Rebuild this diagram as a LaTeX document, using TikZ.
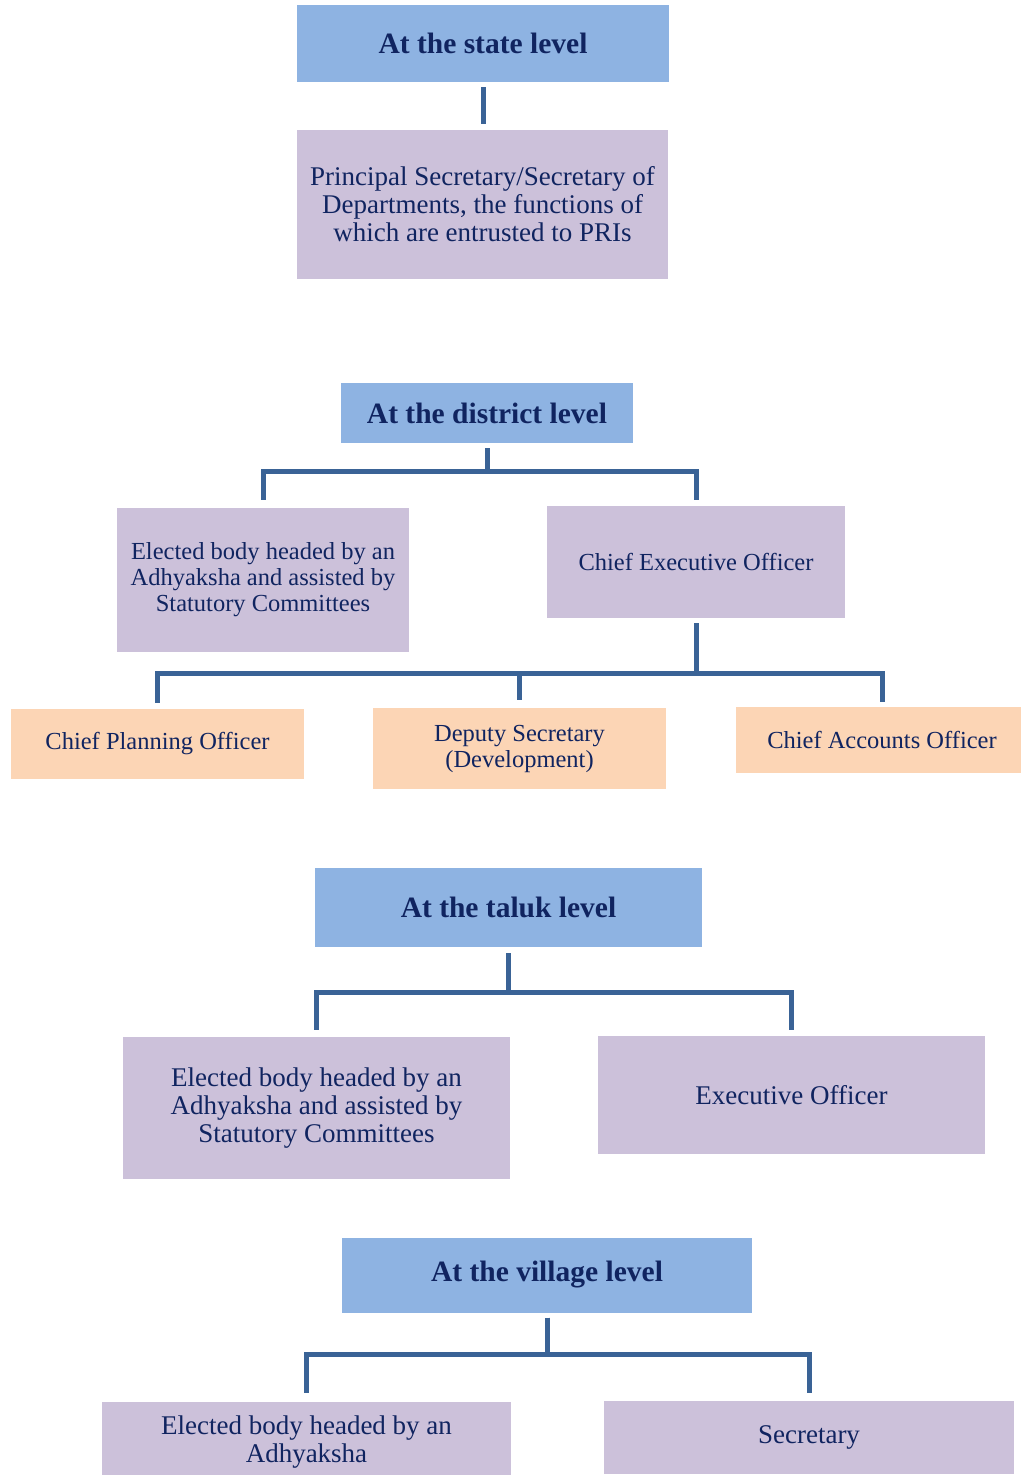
\documentclass[tikz,border=0pt]{standalone}
\usepackage{fontspec}
\setmainfont{Liberation Serif}
\usetikzlibrary{positioning, calc}
\definecolor{HeadBlue}{RGB}{142, 179, 226}
\definecolor{RoleLilac}{RGB}{204, 193, 218}
\definecolor{OffPeach}{RGB}{252, 213, 181}
\definecolor{InkNavy}{RGB}{16, 36, 96}
\definecolor{LinkBlue}{RGB}{58, 99, 150}

\begin{document}
\begin{tikzpicture}[x=1pt, y=-1pt,
          head/.style={fill=HeadBlue, text=InkNavy, inner sep=0pt,
                       align=center, font=\fontsize{29.5}{32}\selectfont\bfseries},
          role/.style={fill=RoleLilac, text=InkNavy, inner sep=0pt,
                       align=center, font=\fontsize{27}{28}\selectfont},
          small/.style={font=\fontsize{24.5}{26}\selectfont},
          post/.style={fill=OffPeach, text=InkNavy, inner sep=0pt,
                       align=center, font=\fontsize{24.5}{26}\selectfont},
          link/.style={draw=LinkBlue, line width=5pt}
        ]
        \useasboundingbox (0,0) rectangle (1022,1475);

        % state level
        \node[head, minimum width=372pt, minimum height=77pt] (shead) at (483,43.5) {At the state level};
        \node[role, minimum width=371pt, minimum height=149pt] (psec) at (482.5,204.5)
              {Principal Secretary/Secretary of\\Departments, the functions of\\which are entrusted to PRIs};
        \draw[link] ([yshift=-5pt]shead.south) -- ([yshift=6pt]shead.south |- psec.north);

        % district level
        \node[head, minimum width=292pt, minimum height=60pt] (dhead) at (487,413) {At the district level};
        \node[role, small, minimum width=292pt, minimum height=144pt] (delect) at (263,580)
              {Elected body headed by an\\Adhyaksha and assisted by\\Statutory Committees};
        \node[role, small, minimum width=298pt, minimum height=112pt] (ceo) at (696,562) {Chief Executive Officer};
        \draw[link] ([yshift=-5pt]dhead.south) -- ++(0,-23pt) -| ([yshift=8pt]delect.north);
        \draw[link] ([yshift=-5pt]dhead.south) -- ++(0,-23pt) -| ([yshift=6pt]ceo.north);

        \node[post, minimum width=293pt, minimum height=70pt] (cpo) at (157.5,744) {Chief Planning Officer};
        \node[post, minimum width=293pt, minimum height=81pt] (dsec) at (519.5,748.5) {Deputy Secretary\\(Development)};
        \node[post, minimum width=285pt, minimum height=66pt] (cao) at (878.5,740) {\hspace*{7pt}Chief Accounts Officer};
        \draw[link] ([yshift=-5pt]ceo.south) -- ++(0,-50pt) -| ([yshift=6pt]cpo.north);
        \draw[link] ([yshift=-5pt]ceo.south) -- ++(0,-50pt) -| ([yshift=8pt]dsec.north);
        \draw[link] ([yshift=-5pt]ceo.south) -- ++(0,-50pt) -| ([xshift=4pt,yshift=5pt]cao.north);

        % taluk level
        \node[head, minimum width=387pt, minimum height=79pt] (thead) at (508.5,907.5) {At the taluk level};
        \node[role, minimum width=387pt, minimum height=142pt] (telect) at (316.5,1108)
              {Elected body headed by an\\Adhyaksha and assisted by\\Statutory Committees};
        \node[role, minimum width=387pt, minimum height=118pt] (eo) at (791.5,1095) {Executive Officer};
        \draw[link] ([yshift=-6pt]thead.south) -- ++(0,-39pt) -| ([yshift=7pt]telect.north);
        \draw[link] ([yshift=-6pt]thead.south) -- ++(0,-39pt) -| ([yshift=6pt]eo.north);

        % village level
        \node[head, minimum width=410pt, minimum height=75pt] (vhead) at (547,1275) {At the village level};
        \node[role, minimum width=409pt, minimum height=80pt] (velect) at (306.5,1442)
              {Elected body headed by an\\Adhyaksha};
        \node[role, minimum width=410pt, minimum height=73pt] (secy) at (809,1437.5) {Secretary};
        \draw[link] ([yshift=-5pt]vhead.south) -- ++(0,-37pt) -| ([yshift=9pt]velect.north);
        \draw[link] ([yshift=-5pt]vhead.south) -- ++(0,-37pt) -| ([yshift=8pt]secy.north);
      \end{tikzpicture}
\end{document}
